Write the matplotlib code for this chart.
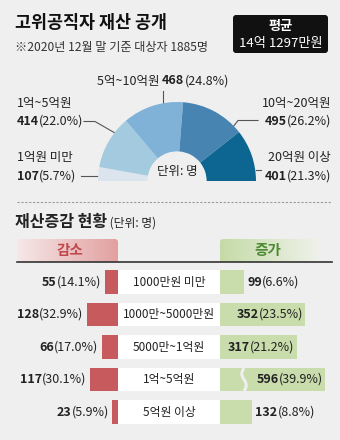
import matplotlib.pyplot as plt
import numpy as np
from matplotlib.patches import FancyBboxPatch
from matplotlib.colors import to_rgb

plt.rcParams['font.family'] = ['Noto Sans CJK KR', 'DejaVu Sans']

# ---- data ----
title = '고위공직자 재산 공개'
subtitle = '※2020년 12월 말 기준 대상자 1885명'
avg_lines = ['평균', '14억 1297만원']

asset_groups = ['1억원 미만', '1억~5억원', '5억~10억원', '10억~20억원', '20억원 이상']
asset_counts = [107, 414, 468, 495, 401]
asset_pcts = [5.7, 22.0, 24.8, 26.2, 21.3]

change_groups = ['1000만원 미만', '1000만~5000만원', '5000만~1억원', '1억~5억원', '5억원 이상']
dec_counts = [55, 128, 66, 117, 23]
dec_pcts = [14.1, 32.9, 17.0, 30.1, 5.9]
inc_counts = [99, 352, 317, 596, 132]
inc_pcts = [6.6, 23.5, 21.2, 39.9, 8.8]

# ---- style ----
W, H = 340, 440
BG = '#efefef'
INK = '#222222'
PIE_COLORS = ['#dce5ed', '#a4cadf', '#7fb2d6', '#4884b2', '#0c6691']
RED = '#c75a5c'
GREEN = '#c9dcab'
S = 0.242          # pixels per person in the bar section
CAP = 435          # bars longer than this are drawn broken

fig = plt.figure(figsize=(W / 100, H / 100), dpi=100, facecolor=BG)


def pax(x0, y0, w, h):
    ax = fig.add_axes([x0 / W, 1 - (y0 + h) / H, w / W, h / H])
    ax.axis('off')
    ax.patch.set_visible(False)
    return ax


def chain(ax, xy, parts, ha='left', size=9, dx=0, color=INK):
    # write (text, bold[, size]) pieces next to each other
    seq = parts if ha == 'left' else parts[::-1]
    prev = None
    for part in seq:
        s, bold = part[0], part[1]
        fs = part[2] if len(part) > 2 else size
        w = 'bold' if bold else 'normal'
        if prev is None:
            prev = ax.annotate(s, xy, xytext=(dx, 0), textcoords='offset points',
                               ha=ha, va='center', fontsize=fs, fontweight=w,
                               color=color, annotation_clip=False)
        else:
            prev = ax.annotate(s, (1, 0) if ha == 'left' else (0, 0), xycoords=prev,
                               ha=ha, va='bottom', fontsize=fs, fontweight=w,
                               color=color, annotation_clip=False)
    return prev


ov = pax(0, 0, W, H)

# ---- header ----
ov.text(15, 23, title, fontsize=12.5, fontweight='bold', va='center', color='#111')
ov.text(15, 47, subtitle, fontsize=8.7, va='center', color='#333')
ov.add_patch(FancyBboxPatch((233, 15), 95, 38, boxstyle='round,pad=0,rounding_size=3',
                            fc='#111111', ec='none'))
ov.text(280.5, 26, avg_lines[0], fontsize=9.5, fontweight='bold', color='white',
        ha='center', va='center')
ov.text(280.5, 43, avg_lines[1], fontsize=9.5, color='white', ha='center', va='center')

# ---- half donut ----
R = 79
cx, cy = 177, 181
axp = pax(cx - R, cy - R, 2 * R, 2 * R)
wedges, _ = axp.pie(asset_counts + [sum(asset_counts)], colors=PIE_COLORS + ['white'],
                    startangle=180, counterclock=False, radius=1,
                    wedgeprops=dict(width=0.625, edgecolor='none'))
wedges[-1].set_visible(False)
axp.set_xlim(-1, 1)
axp.set_ylim(-1, 1)
ov.text(cx, 172, '단위: 명', fontsize=9, ha='center', va='center', color=INK)

# labels around the donut
for i, (x, yn, yv, ha) in {0: (17, 157, 176, 'left'), 1: (17, 104, 121.5, 'left'),
                           3: (331, 104, 121.5, 'right'), 4: (331, 157, 176, 'right')}.items():
    ov.text(x, yn, asset_groups[i], fontsize=9, ha=ha, va='center', color=INK)
    chain(ov, (x, yv), [(str(asset_counts[i]), True), (f'({asset_pcts[i]:.1f}%)', False)], ha=ha)
chain(ov, (97, 81), [(asset_groups[2] + ' ', False), (str(asset_counts[2]), True),
                     (f'({asset_pcts[2]:.1f}%)', False)])

leaders = [[(81, 176), (98, 176)],
           [(84, 121.5), (95, 121.5), (115, 133)],
           [(163, 91), (163, 103)],
           [(258, 120.5), (238, 120.5), (233, 127)],
           [(256, 170), (261, 170)]]
for pts in leaders:
    xs, ys = zip(*pts)
    ov.plot(xs, ys, color='#555555', lw=0.8)

# ---- change section ----
ov.plot([17, 332], [202, 202], color='#9a9a9a', lw=0.8, ls=(0, (2, 1.5)))
chain(ov, (15, 221.5), [('재산증감 현황', True), (' (단위: 명)', False, 8.5)], size=11.5)


def grad_box(x0, x1, y0, y1, c0, c1):
    t = np.linspace(0, 1, 200)[None, :, None]
    img = (1 - t) * np.array(to_rgb(c0)) + t * np.array(to_rgb(c1))
    im = ov.imshow(img, extent=(x0, x1, y1, y0), aspect='auto', interpolation='bilinear')
    clip = FancyBboxPatch((x0, y0), x1 - x0, y1 - y0 + 4,
                          boxstyle='round,pad=0,rounding_size=3',
                          transform=ov.transData, fc='none', ec='none')
    ov.add_patch(clip)
    im.set_clip_path(clip)


grad_box(17, 118, 239, 262, '#f6e8e8', '#e2a0a0')
grad_box(220, 318, 239, 262, '#c5dba6', '#eef1ea')
ov.set_xlim(0, W)
ov.set_ylim(H, 0)
ov.text(70, 250.5, '감소', fontsize=10.5, fontweight='bold', color='#c0474b',
        ha='center', va='center')
ov.text(268, 250.5, '증가', fontsize=10.5, fontweight='bold', color='#4d8a33',
        ha='center', va='center')
ov.plot([17, 332], [262.5, 262.5], color='#333333', lw=1.2)

rows = np.arange(len(change_groups))
ylim = ((H - 282) / 32.5, -282 / 32.5)
BH = 0.71

axl = pax(0, 0, 118, H)
axl.set_xlim(118 / S, 0)
axl.set_ylim(*ylim)
axl.barh(rows, dec_counts, height=BH, color=RED)
for i, (v, p) in enumerate(zip(dec_counts, dec_pcts)):
    chain(axl, (v, i), [(str(v), True), (f'({p:.1f}%)', False)], ha='right', dx=-2.5)

axm = pax(118, 0, 102, H)
axm.set_xlim(0, 1)
axm.set_ylim(*ylim)
axm.barh(rows, 1, left=0, height=BH, color='white')
for i, g in enumerate(change_groups):
    axm.text(0.5, i, g, fontsize=8.5, ha='center', va='center', color=INK)

axr = pax(220, 0, 120, H)
axr.set_xlim(0, 120 / S)
axr.set_ylim(*ylim)
shown = np.minimum(inc_counts, CAP)
axr.barh(rows, shown, height=BH, color=GREEN)
for i, (v, p) in enumerate(zip(inc_counts, inc_pcts)):
    parts = [(str(v), True), (f'({p:.1f}%)', False)]
    if v > 200:
        chain(axr, (shown[i], i), parts, ha='right', dx=-1.5)
    else:
        chain(axr, (v, i), parts, ha='left', dx=2.5)
    if v > CAP:
        yy = np.linspace(i - BH / 2, i + BH / 2, 40)
        xx = 24 / S + 2.2 / S * np.sin((yy - i) / (BH / 2) * np.pi)
        axr.plot(xx, yy, color=BG, lw=2.2, solid_capstyle='butt')

fig.savefig('out.png', dpi=100, facecolor=BG)
